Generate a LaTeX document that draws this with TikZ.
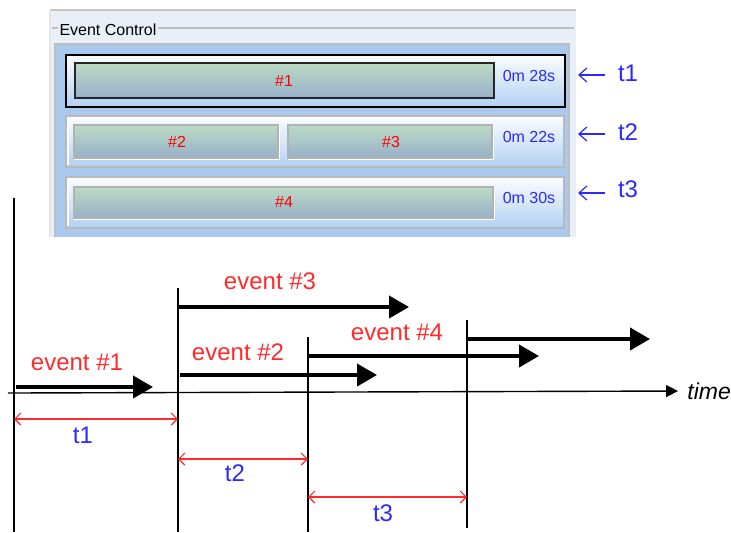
\documentclass[tikz,border=0pt]{standalone}
\usepackage{fontspec}
\setmainfont{Liberation Sans}
\usetikzlibrary{arrows.meta}
\definecolor{panelbg}{HTML}{E9EFF7}
\definecolor{innerbg}{HTML}{A9C9EE}
\definecolor{rowtop}{HTML}{FBFDFF}
\definecolor{rowbot}{HTML}{B2D1F2}
\definecolor{bartop}{HTML}{BCDBC4}
\definecolor{barbot}{HTML}{97B0CA}
\definecolor{evred}{HTML}{FF2A2A}
\definecolor{tblue}{HTML}{2A2AFF}

\tikzset{
  rowbox/.style={top color=rowtop,bottom color=rowbot,draw=gray!55,line width=0.8pt},
  barbox/.style={top color=bartop,bottom color=barbot,draw=gray!60,line width=0.8pt},
  hilite/.style={white,line width=0.7pt},
  hashlab/.style={text=red,font=\fontsize{8}{9}\selectfont},
  durlab/.style={text=tblue,font=\fontsize{8}{9}\selectfont},
  tlab/.style={text=tblue,font=\fontsize{12}{14}\selectfont,inner sep=2pt},
  evlab/.style={text=evred,font=\fontsize{12}{14}\selectfont},
  tarrow/.style={tblue,line width=0.6pt,-{Straight Barb[length=4pt,width=7pt]}},
  evarrow/.style={line width=2pt,-{Triangle[length=10pt,width=11pt]}},
  dimarrow/.style={evred,line width=0.6pt,{Straight Barb[length=3pt,width=6pt]}-{Straight Barb[length=3pt,width=6pt]}},
  tick/.style={line width=0.7pt}
}

\begin{document}
\begin{tikzpicture}[x=0.5pt,y=-0.5pt]
 \useasboundingbox (0,0) rectangle (731,532);
 % screenshot of the panel
 \fill[panelbg] (50,9) rectangle (576,237);
 \draw[gray!45,line width=1pt] (50,9.5) -- (576,9.5);
 \draw[white!80!gray,line width=0.6pt] (50,9) -- (50,237);
 \draw[gray!50,line width=0.8pt] (52,28) -- (574,28);
 \node[fill=panelbg,inner xsep=1pt,inner ysep=0pt,font=\fontsize{8}{9}\selectfont] (ctl) at (108,30) {Event Control};
 \fill[innerbg] (55,44) rectangle (569,237);
 \draw[gray!50,line width=0.8pt] (55,237) -- (55,44) -- (569,44) -- (569,237);
 % rows
 \shade[rowbox,draw=black,line width=1pt] (66,55) rectangle (565,107);
 \shade[barbox,draw=black!85] (75,63) rectangle (494,98);
 \shade[rowbox] (66,116) rectangle (564,167);
 \draw[hilite] (68,165) -- (68,118) -- (562,118);
 \shade[barbox] (74,125) rectangle (278,158);
 \draw[hilite] (74,159.5) -- (279.5,159.5) -- (279.5,125);
 \shade[barbox] (288,125) rectangle (492,158);
 \draw[hilite] (288,159.5) -- (493.5,159.5) -- (493.5,125);
 \shade[rowbox] (66,177) rectangle (564,228);
 \draw[hilite] (68,226) -- (68,179) -- (562,179);
 \shade[barbox] (74,187) rectangle (493,218);
 \draw[hilite] (74,219.5) -- (494.5,219.5) -- (494.5,187);
 \node[hashlab] (h1) at (284,81) {\#1};
 \node[hashlab] (h2) at (177,142) {\#2};
 \node[hashlab] (h3) at (391,142) {\#3};
 \node[hashlab] (h4) at (284,202) {\#4};
 \node[durlab] (d1) at (529,76) {0m 28s};
 \node[durlab] (d2) at (529,137) {0m 22s};
 \node[durlab] (d3) at (529,198) {0m 30s};
 % t arrows
 \node[tlab] (pt1) at (628,73) {t1};
 \node[tlab] (pt2) at (628,132) {t2};
 \node[tlab] (pt3) at (628,189) {t3};
 \coordinate (r1) at (578,75);
 \coordinate (r2) at (578,134);
 \coordinate (r3) at (578,193);
 \draw[tarrow,shorten <=4.5pt] (pt1.west |- r1) -- (r1);
 \draw[tarrow,shorten <=4.5pt] (pt2.west |- r2) -- (r2);
 \draw[tarrow,shorten <=4.5pt] (pt3.west |- r3) -- (r3);
 % time axis
 \coordinate (ax) at (8,393);
 \node[anchor=west,inner sep=2pt,font=\itshape\fontsize{11.5}{14}\selectfont] (time) at (683,391) {time};
 \draw[line width=0.7pt,-{Triangle[length=6pt,width=6pt]},shorten >=2.5pt] (ax) -- (time.west);
 % start lines
 \coordinate (v0a) at (14,198); \coordinate (v0b) at (14,532);
 \coordinate (v1a) at (178,288); \coordinate (v1b) at (178,532);
 \coordinate (v2a) at (308,337); \coordinate (v2b) at (308,532);
 \coordinate (v3a) at (467,320); \coordinate (v3b) at (467,528);
 \draw[tick] (v0a) -- (v0b);
 \draw[tick] (v1a) -- (v1b);
 \draw[tick] (v2a) -- (v2b);
 \draw[tick] (v3a) -- (v3b);
 % events
 \coordinate (e1a) at (16,387); \coordinate (e1b) at (153,387);
 \coordinate (e2a) at (180,375); \coordinate (e2b) at (377,375);
 \coordinate (e3a) at (178,307); \coordinate (e3b) at (409,307);
 \coordinate (e4a) at (308,356); \coordinate (e4b) at (539,356);
 \coordinate (e5a) at (468,339); \coordinate (e5b) at (650,339);
 \draw[evarrow] (e1a) -- (e1b);
 \draw[evarrow] (e2a) -- (e2b);
 \draw[evarrow] (e3a) -- (e3b);
 \draw[evarrow] (e4a) -- (e4b);
 \draw[evarrow] (e5a) -- (e5b);
 \node[evlab] (ev1) at (77,362) {event \#1};
 \node[evlab] (ev2) at (238,352) {event \#2};
 \node[evlab] (ev3) at (270,281) {event \#3};
 \node[evlab] (ev4) at (397,332) {event \#4};
 % durations
 \coordinate (t1a) at (14,419); \coordinate (t1b) at (178,419);
 \coordinate (t2a) at (178,459); \coordinate (t2b) at (308,459);
 \coordinate (t3a) at (308,497); \coordinate (t3b) at (467,497);
 \draw[dimarrow] (t1a) -- (t1b);
 \draw[dimarrow] (t2a) -- (t2b);
 \draw[dimarrow] (t3a) -- (t3b);
 \node[tlab] (lt1) at (83,435) {t1};
 \node[tlab] (lt2) at (235,473) {t2};
 \node[tlab] (lt3) at (383,513) {t3};
\end{tikzpicture}
\end{document}
